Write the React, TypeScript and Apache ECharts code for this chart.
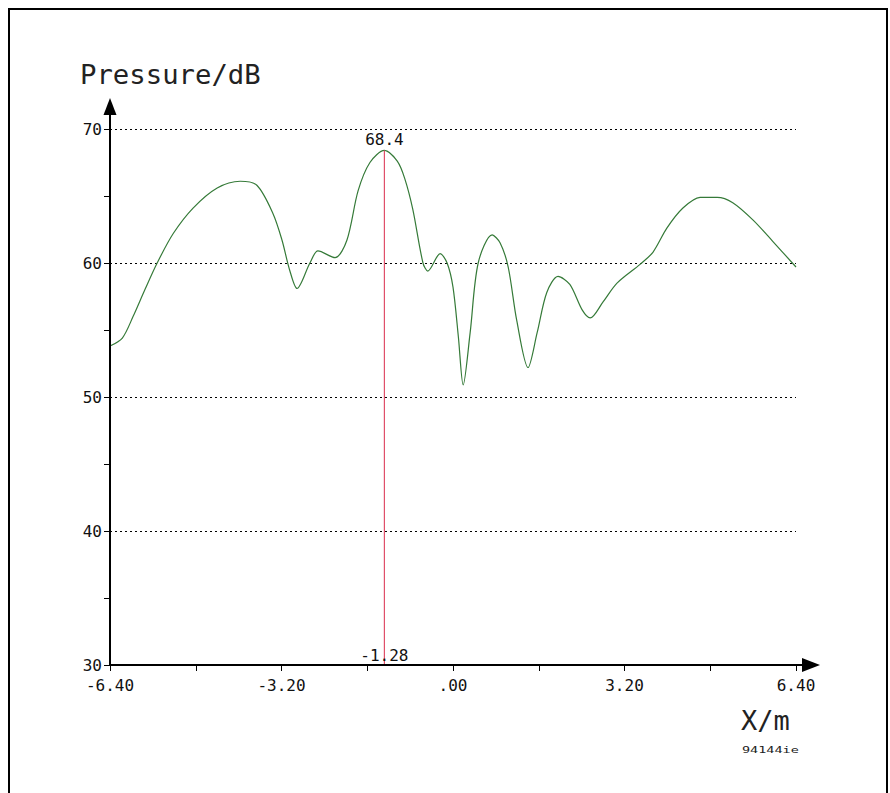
import React, { useEffect, useRef } from "react";
import * as echarts from "echarts";

const xValues = [
  -6.4, -6.17, -5.97, -5.75, -5.52, -5.22, -4.85, -4.4, -3.97, -3.66, -3.36, -3.19, -3.05, -2.91,
  -2.67, -2.52, -2.2, -1.98, -1.77, -1.55, -1.28, -1.04, -0.9, -0.75, -0.56, -0.47, -0.24, -0.11,
  0.0, 0.1, 0.19, 0.32, 0.47, 0.73, 0.88, 1.03, 1.19, 1.4, 1.57, 1.75, 1.96, 2.18, 2.41, 2.56,
  2.8, 3.06, 3.49, 3.73, 3.99, 4.29, 4.61, 4.93, 5.22, 5.6, 5.97, 6.4,
];
const pressureDb = [
  53.8, 54.4, 56.0, 58.0, 60.0, 62.2, 64.1, 65.6, 66.1, 65.8, 63.7, 61.7, 59.5, 58.1,
  60.0, 60.9, 60.4, 61.7, 65.4, 67.5, 68.4, 67.6, 66.3, 64.0, 60.0, 59.4, 60.7, 60.0,
  58.2, 54.5, 50.9, 54.8, 60.0, 62.1, 61.5, 59.7, 55.7, 52.2, 54.8, 57.8, 59.0, 58.4, 56.5, 55.9,
  57.1, 58.5, 59.9, 60.8, 62.6, 64.1, 64.9, 64.9, 64.5, 63.2, 61.6, 59.7,
];
const cursorX = -1.28;
const cursorY = 68.4;
const xTickLabels = ["-6.40", "-3.20", ".00", "3.20", "6.40"];
const xTickValues = [-6.4, -3.2, 0, 3.2, 6.4];
const yTickValues = [30, 40, 50, 60, 70];
const yTitle = "Pressure/dB";
const xTitle = "X/m";
const codeText = "94144ie";

const FONT = "'DejaVu Sans Mono', 'Liberation Mono', monospace";

export default function App() {
  const ref = useRef<HTMLDivElement>(null);
  useEffect(() => {
    if (!ref.current) return;
    const chart = echarts.init(ref.current, null, { renderer: "svg" });
    const fmtX = (v: number) => {
      const i = xTickValues.findIndex((t) => Math.abs(t - v) < 1e-6);
      return i >= 0 ? xTickLabels[i] : "";
    };
    const fmtY = (v: number) => (yTickValues.includes(Math.round(v)) ? String(Math.round(v)) : "");
    chart.setOption({
      animation: false,
      backgroundColor: "#ffffff",
      grid: { left: 110, right: 94, top: 129, bottom: 128 },
      xAxis: {
        type: "value",
        min: -6.4,
        max: 6.4,
        interval: 3.2,
        axisLine: { show: false, onZero: false },
        axisTick: { show: true, length: 6, lineStyle: { color: "#000", width: 1 } },
        minorTick: { show: true, splitNumber: 2, length: 6, lineStyle: { color: "#000", width: 1 } },
        splitLine: { show: false },
        axisLabel: { formatter: fmtX, color: "#111", fontFamily: FONT, fontSize: 16, margin: 12 },
      },
      yAxis: {
        type: "value",
        min: 30,
        max: 70,
        interval: 10,
        axisLine: { show: false, onZero: false },
        axisTick: { show: true, length: 6, lineStyle: { color: "#000", width: 1 } },
        minorTick: { show: true, splitNumber: 2, length: 6, lineStyle: { color: "#000", width: 1 } },
        splitLine: { show: true, lineStyle: { color: "#000", width: 1, type: [2, 3] } },
        axisLabel: { formatter: fmtY, color: "#111", fontFamily: FONT, fontSize: 16, margin: 8 },
      },
      series: [
        {
          type: "line",
          data: xValues.map((x, i) => [x, pressureDb[i]]),
          smooth: 0.3,
          showSymbol: false,
          lineStyle: { color: "#357a38", width: 1.2 },
          z: 3,
        },
        {
          type: "line",
          data: [
            {
              value: [cursorX, 30],
              label: { show: true, formatter: cursorX.toFixed(2), position: "top", distance: 1 },
            },
            {
              value: [cursorX, cursorY],
              label: { show: true, formatter: String(cursorY), position: "top", distance: 2 },
            },
          ],
          showSymbol: true,
          symbol: "circle",
          symbolSize: 1,
          itemStyle: { color: "rgba(0,0,0,0)" },
          label: { show: true, color: "#111", fontFamily: FONT, fontSize: 16 },
          labelLayout: { hideOverlap: false },
          lineStyle: { color: "#e0506a", width: 1.2 },
          z: 4,
        },
      ],
    });

    const origin = chart.convertToPixel({ gridIndex: 0 }, [-6.4, 30]) as number[];
    const xEnd = chart.convertToPixel({ gridIndex: 0 }, [6.4, 30]) as number[];
    const yEnd = chart.convertToPixel({ gridIndex: 0 }, [-6.4, 70]) as number[];
    const ox = origin[0];
    const oy = origin[1];
    const yTip = yEnd[1] - 31;
    const xTip = xEnd[0] + 24;
    chart.setOption({
      graphic: [
        {
          type: "rect",
          shape: { x: 9, y: 9, width: 878, height: 820 },
          style: { fill: "none", stroke: "#000", lineWidth: 2 },
          silent: true,
        },
        {
          type: "line",
          shape: { x1: ox, y1: oy, x2: ox, y2: yTip + 10 },
          style: { stroke: "#000", lineWidth: 2 },
          z: 10,
        },
        {
          type: "polygon",
          shape: { points: [[ox, yTip], [ox - 6.5, yTip + 17], [ox + 6.5, yTip + 17]] },
          style: { fill: "#000" },
          z: 10,
        },
        {
          type: "line",
          shape: { x1: ox, y1: oy, x2: xTip - 10, y2: oy },
          style: { stroke: "#000", lineWidth: 2 },
          z: 10,
        },
        {
          type: "polygon",
          shape: { points: [[xTip, oy], [xTip - 18, oy - 7], [xTip - 18, oy + 7]] },
          style: { fill: "#000" },
          z: 10,
        },
        {
          type: "text",
          x: 80,
          y: 62,
          scaleX: 1.05,
          style: { text: yTitle, fontFamily: FONT, fontSize: 26, fill: "#222" },
          z: 10,
        },
        {
          type: "text",
          x: 741,
          y: 707,
          style: { text: xTitle, fontFamily: FONT, fontSize: 27, fill: "#222" },
          z: 10,
        },
        {
          type: "text",
          x: 742,
          y: 745,
          scaleX: 1.5,
          style: { text: codeText, fontFamily: FONT, fontSize: 9, fill: "#222" },
          z: 10,
        },
      ],
    });
    return () => chart.dispose();
  }, []);
  return (
    <div
      ref={ref}
      style={{ position: "fixed", left: 0, top: 0, width: 890, height: 793, background: "#fff" }}
    />
  );
}
